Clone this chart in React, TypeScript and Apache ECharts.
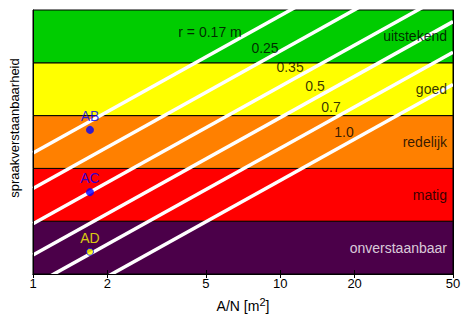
import React, { useEffect, useRef } from "react";
import * as echarts from "echarts";

const xTicks = [1, 2, 5, 10, 20, 50];
const bandNames = ["onverstaanbaar", "matig", "redelijk", "goed", "uitstekend"];
const bandColors = ["#4b0049", "#ff0000", "#ff8000", "#ffff00", "#00cc00"];
const bandLabelColors = ["#ffffff", "#000000", "#000000", "#000000", "#000000"];
const bandLabelY = [0.5, 1.5, 2.5, 3.5, 4.5];

const rLabels = ["r = 0.17 m", "0.25", "0.35", "0.5", "0.7", "1.0"];
const lineYAtX1 = [2.29, 1.62, 0.95, 0.36, -0.22, -0.83];
const lineYAtX50 = [6.71, 6.04, 5.37, 4.78, 4.2, 3.59];
const rLabelX = [5.2, 8.68, 10.96, 13.83, 16.04, 18.12];
const rLabelY = [4.58, 4.28, 3.92, 3.56, 3.16, 2.69];

const pointNames = ["AB", "AC", "AD"];
const pointX = [1.7, 1.7, 1.7];
const pointY = [2.73, 1.55, 0.42];
const pointFill = ["#0000ff", "#0000ff", "#ffff00"];
const pointLabelColor = ["#0000ff", "#0000ff", "#ffff00"];

const FONT = "'Liberation Sans', Arial, sans-serif";

export default function App() {
  const ref = useRef<HTMLDivElement>(null);
  useEffect(() => {
    if (!ref.current) return;
    const chart = echarts.init(ref.current, undefined, { renderer: "svg" });
    const xAxisBase = {
      type: "log" as const,
      logBase: 10,
      min: 1,
      max: 50,
      z: 10,
      axisLine: { show: true, lineStyle: { color: "#000", width: 1 } },
      splitLine: { show: false },
      minorTick: { show: false },
      minorSplitLine: { show: false },
    };
    const series: any[] = [];
    series.push({
      type: "line",
      data: [],
      silent: true,
      markArea: {
        silent: true,
        data: bandNames.map((n, i) => [
          { yAxis: i, xAxis: 1, itemStyle: { color: bandColors[i], borderColor: "#000", borderWidth: 1 } },
          { yAxis: i + 1, xAxis: 50 },
        ]),
      },
      z: 1,
    });
    rLabels.forEach((lab, i) => {
      series.push({
        type: "line",
        data: [
          [1, lineYAtX1[i]],
          [50, lineYAtX50[i]],
        ],
        symbol: "none",
        clip: true,
        lineStyle: { color: "#ffffff", width: 3.5 },
        silent: true,
        z: 3,
      });
    });
    series.push({
      type: "scatter",
      symbolSize: 0,
      silent: true,
      z: 5,
      data: rLabels.map((l, i) => ({ value: [rLabelX[i], rLabelY[i]], name: l })),
      label: {
        show: true,
        position: "inside",
        formatter: (p: any) => p.name,
        color: "#000",
        fontSize: 14,
        fontFamily: FONT,
      },
    });
    series.push({
      type: "scatter",
      symbolSize: 0,
      silent: true,
      z: 5,
      data: bandNames.map((l, i) => ({
        value: [50, bandLabelY[i]],
        name: l,
        label: { color: bandLabelColors[i] },
      })),
      label: {
        show: true,
        position: "left",
        distance: 6,
        formatter: (p: any) => p.name,
        fontSize: 14,
        fontFamily: FONT,
      },
    });
    series.push({
      type: "scatter",
      silent: true,
      z: 6,
      data: pointNames.map((n, i) => ({
        value: [pointX[i], pointY[i]],
        name: n,
        symbolSize: i === 2 ? 7 : 8,
        itemStyle: {
          color: pointFill[i],
          borderColor: "#0000ff",
          borderWidth: i === 2 ? 1 : 0,
        },
        label: { color: pointLabelColor[i] },
      })),
      label: {
        show: true,
        position: "top",
        distance: 3,
        formatter: (p: any) => p.name,
        fontSize: 14,
        fontFamily: FONT,
      },
    });

    chart.setOption({
      animation: false,
      backgroundColor: "#ffffff",
      textStyle: { fontFamily: FONT },
      grid: { left: 33, right: 19, top: 10, bottom: 50 },
      xAxis: [
        {
          ...xAxisBase,
          position: "bottom",
          name: "A/N [m{sup|2}]",
          nameLocation: "middle",
          nameGap: 22,
          nameTextStyle: {
            color: "#000",
            fontSize: 14,
            fontFamily: FONT,
            rich: {
              sup: { fontSize: 11, fontFamily: FONT, color: "#000", padding: [0, 0, 8, 0] },
            },
          },
          axisTick: { show: true, inside: true, length: 4, lineStyle: { color: "#000" }, customValues: xTicks },
          axisLabel: {
            show: true,
            customValues: xTicks,
            color: "#000",
            fontSize: 13,
            margin: 3,
            fontFamily: FONT,
          },
        },
        {
          ...xAxisBase,
          position: "top",
          axisTick: { show: true, inside: true, length: 4, lineStyle: { color: "#000" }, customValues: xTicks },
          axisLabel: { show: false },
        },
      ],
      yAxis: [
        {
          type: "value",
          min: 0,
          max: 5,
          position: "left",
          z: 10,
          name: "spraakverstaanbaarheid",
          nameLocation: "middle",
          nameGap: 12,
          nameTextStyle: { color: "#000", fontSize: 13, fontFamily: FONT, padding: [0, 0, 0, 28] },
          axisLine: { show: true, lineStyle: { color: "#000", width: 1 } },
          axisTick: { show: false },
          axisLabel: { show: false },
          splitLine: { show: false },
        },
        {
          type: "value",
          min: 0,
          max: 5,
          position: "right",
          z: 10,
          axisLine: { show: true, lineStyle: { color: "#000", width: 1 } },
          axisTick: { show: false },
          axisLabel: { show: false },
          splitLine: { show: false },
        },
      ],
      series,
    });
    return () => chart.dispose();
  }, []);
  return <div ref={ref} style={{ width: 472, height: 324, position: "absolute", left: 0, top: 0 }} />;
}
